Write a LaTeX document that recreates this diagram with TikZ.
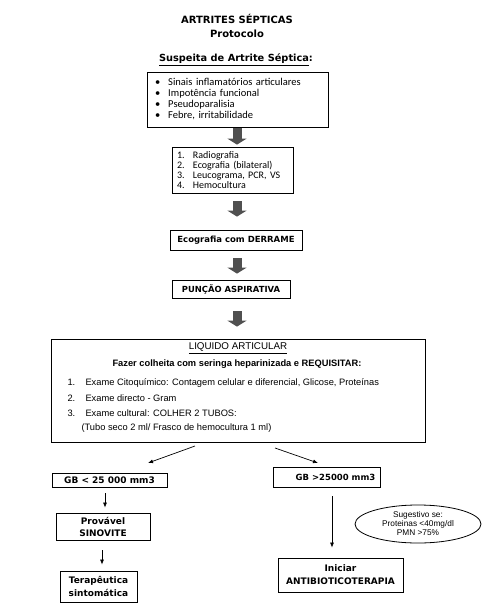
\documentclass[tikz,border=0pt]{standalone}
\usepackage{fontspec}
\setmainfont{Liberation Sans}
\newfontfamily\vfont{DejaVu Sans}
\newfontfamily\cfont{Carlito}
\usetikzlibrary{arrows.meta,shapes.geometric}
\definecolor{arrowgrey}{RGB}{80,80,80}

\begin{document}
\begin{tikzpicture}[x=1pt, y=-1pt, >=Latex,
    box/.style={draw, line width=0.8pt, inner sep=0pt, align=center},
    headfont/.style={font=\vfont\bfseries\fontsize{9}{12}\selectfont},
    listfont/.style={font=\cfont\fontsize{10.5}{11}\selectfont},
    armfont/.style={font=\fontsize{9.3}{11}\selectfont},
    blockarrow/.style={arrowgrey, line width=9pt, -{Triangle[width=19pt,length=6pt]}},
    thinarrow/.style={line width=0.7pt, -{Latex[length=5pt,width=4pt]}}]
    \useasboundingbox (0,0) rectangle (486,614);
    \coordinate (ax) at (237,0);
    % titulo
    \node[font=\vfont\bfseries\fontsize{10}{14}\selectfont, align=center] (titulo) at (237,26)
      {ARTRITES SÉPTICAS\\Protocolo};
    \node[font=\vfont\bfseries\fontsize{9.8}{12}\selectfont] (suspeita) at (236,60)
      {\underline{Suspeita de Artrite Séptica}:};
    % quadros do topo
    \node[box, listfont, align=left, text width=165pt, inner xsep=8pt, minimum height=55pt] (sinais) at (237.5,99.5)
      {\textbullet\hspace{8pt}Sinais inflamatórios articulares\\
       \textbullet\hspace{8pt}Impotência funcional\\
       \textbullet\hspace{8pt}Pseudoparalisia\\
       \textbullet\hspace{8pt}Febre, irritabilidade};
    \node[box, font=\cfont\fontsize{10}{10}\selectfont, align=left, text width=111pt, inner xsep=5pt, minimum height=46pt] (exames) at (232.5,170)
      {\makebox[16pt][l]{1.}Radiografia\\
       \makebox[16pt][l]{2.}Ecografia (bilateral)\\
       \makebox[16pt][l]{3.}Leucograma, PCR, VS\\
       \makebox[16pt][l]{4.}Hemocultura};
    \node[box, font=\vfont\bfseries\fontsize{8.5}{10}\selectfont, minimum width=132pt, minimum height=20pt] (eco) at (236,240)
      {Ecografia com DERRAME};
    \node[box, font=\vfont\bfseries\fontsize{8.4}{10}\selectfont, minimum width=118pt, minimum height=18pt] (puncao) at (231,289)
      {PUNÇÃO ASPIRATIVA};
    % liquido articular
    \node[box, minimum width=374pt, minimum height=103pt] (liq) at (238,390.5) {};
    \node[font=\fontsize{9.8}{12}\selectfont] (liqtit) at (238,348) {\underline{LIQUIDO ARTICULAR}};
    \node[font=\bfseries\fontsize{9.3}{11}\selectfont] (colheita) at (237,364) {Fazer colheita com seringa heparinizada e REQUISITAR:};
    \node[armfont, anchor=west] (ex1) at (64,383)
      {\makebox[18pt][l]{1.}Exame Citoquímico: Contagem celular e diferencial, Glicose, Proteínas};
    \node[armfont, anchor=west] (ex2) at (64,398) {\makebox[18pt][l]{2.}Exame directo - Gram};
    \node[armfont, anchor=west] (ex3) at (64,413) {\makebox[18pt][l]{3.}Exame cultural: COLHER 2 TUBOS:};
    \node[armfont, anchor=west] (ex4) at (78,428) {(Tubo seco 2 ml/ Frasco de hemocultura 1 ml)};
    % ramos
    \node[box, headfont, minimum width=115pt, minimum height=14pt] (gbmenor) at (109.5,480) {GB < 25 000 mm3};
    \node[box, headfont, minimum width=94pt, minimum height=27pt] (sinovite) at (103,526.5) {Provável\\SINOVITE};
    \node[box, headfont, font=\vfont\bfseries\fontsize{9}{13}\selectfont, minimum width=77pt, minimum height=31pt] (terap) at (98.5,586.5) {Terapêutica\\sintomática};
    \node[box, headfont, font=\vfont\bfseries\fontsize{8.5}{10}\selectfont, minimum width=107pt, minimum height=20pt] (gbmaior) at (326.5,477) {\hspace*{18pt}GB >25000 mm3};
    \node[box, headfont, font=\vfont\bfseries\fontsize{9}{13}\selectfont, minimum width=125pt, minimum height=34pt] (iniciar) at (340.5,575) {Iniciar\\ANTIBIOTICOTERAPIA};
    \node[draw, ellipse, line width=0.8pt, inner sep=0pt, minimum width=126pt, minimum height=38pt, align=center,
      font=\fontsize{8.3}{9}\selectfont] (sugestivo) at (418,524)
      {Sugestivo se:\\Proteinas <40mg/dl\\PMN >75\%};
    % setas
    \draw[blockarrow, shorten <=1pt, shorten >=2pt] (sinais.south -| ax) -- (exames.north -| ax);
    \draw[blockarrow, shorten <=8pt, shorten >=13pt] (exames.south -| ax) -- (eco.north -| ax);
    \draw[blockarrow, shorten <=8pt, shorten >=6pt] (eco.south -| ax) -- (puncao.north -| ax);
    \draw[blockarrow, shorten <=13pt, shorten >=12pt] (puncao.south -| ax) -- (liq.north -| ax);
    \coordinate (esqini) at (195,446);
    \coordinate (esqfim) at (148,463);
    \coordinate (dirini) at (275,448);
    \coordinate (dirfim) at (318,463);
    \draw[thinarrow] (esqini) -- (esqfim);
    \draw[thinarrow] (dirini) -- (dirfim);
    \draw[thinarrow, shorten <=6pt, shorten >=5pt] (gbmenor.south -| 105,0) -- (sinovite.north -| 105,0);
    \draw[thinarrow, shorten <=10pt, shorten >=6pt] (sinovite.south -| 102,0) -- (terap.north -| 102,0);
    \draw[thinarrow, shorten <=9pt, shorten >=10pt] (gbmaior.south -| 332,0) -- (iniciar.north -| 332,0);
\end{tikzpicture}
\end{document}
